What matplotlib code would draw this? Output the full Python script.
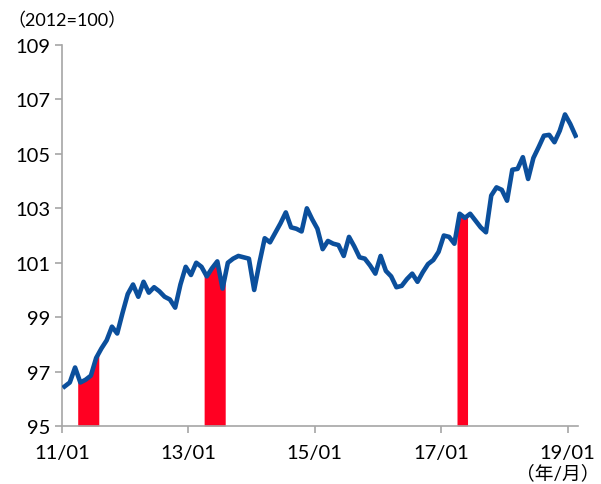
import numpy as np
import matplotlib
matplotlib.use("Agg")
import matplotlib.pyplot as plt

plt.rcParams["font.family"] = ["Lato", "Noto Sans CJK JP", "DejaVu Sans"]

# monthly index, 2011/01 .. 2019/02 (2012=100)
index_values = [
    96.45, 96.6, 97.15, 96.6, 96.7, 96.85, 97.5, 97.85, 98.15, 98.65, 98.4, 99.15,
    99.85, 100.2, 99.75, 100.3, 99.9, 100.1, 99.95, 99.75, 99.65, 99.35, 100.2, 100.85,
    100.55, 101.0, 100.85, 100.5, 100.8, 101.05, 100.05, 101.0, 101.15, 101.25, 101.2, 101.15,
    100.0, 101.0, 101.9, 101.75, 102.1, 102.45, 102.85, 102.3, 102.25, 102.15, 103.0, 102.6,
    102.25, 101.5, 101.8, 101.7, 101.65, 101.25, 101.95, 101.6, 101.2, 101.15, 100.9, 100.6,
    101.25, 100.7, 100.5, 100.1, 100.15, 100.4, 100.6, 100.3, 100.65, 100.95, 101.1, 101.4,
    102.0, 101.95, 101.7, 102.8, 102.65, 102.8, 102.55, 102.3, 102.12, 103.47, 103.77, 103.68,
    103.28, 104.42, 104.45, 104.88, 104.08, 104.85, 105.25, 105.67, 105.7, 105.43, 105.85, 106.45,
    106.1, 105.67,
]
# shaded periods, in months from 2011/01 (start, end)
shaded_periods = [(3, 7), (27, 31), (75, 77)]
tick_months = [0, 24, 48, 72, 96]
tick_labels = ["11/01", "13/01", "15/01", "17/01", "19/01"]

x = np.arange(len(index_values)) + 0.5
y = np.array(index_values)

fig = plt.figure(figsize=(6.01, 4.85), dpi=100)
ax = fig.add_axes([0.103, 0.1196, 0.859, 0.7854])

for a, b in shaded_periods:
    xs = np.linspace(a, b, 60)
    ax.fill_between(xs, 95, np.interp(xs, x, y), color="#ff0022", lw=0, zorder=2)

ax.plot(x, y, color="#0b4f9c", lw=3.3, solid_joinstyle="round", zorder=3)

ax.set_xlim(0, 98)
ax.set_ylim(95, 109)
ax.set_yticks(np.arange(95, 110, 2))
ax.set_xticks(tick_months)
ax.set_xticklabels(tick_labels)

for s in ["top", "right"]:
    ax.spines[s].set_visible(False)
for s in ["left", "bottom"]:
    ax.spines[s].set_color("#a6a6a6")
    ax.spines[s].set_linewidth(1.2)
ax.tick_params(colors="#a6a6a6", labelcolor="black", labelsize=14.5, length=5, width=1.2)
ax.tick_params(axis="x", pad=8)

fig.text(0.012, 0.958, "（2012=100）", fontsize=13, ha="left", va="center")
fig.text(0.998, 0.024, "（年/月）", fontsize=13.5, ha="right", va="center")

fig.savefig("out.png", dpi=100)
